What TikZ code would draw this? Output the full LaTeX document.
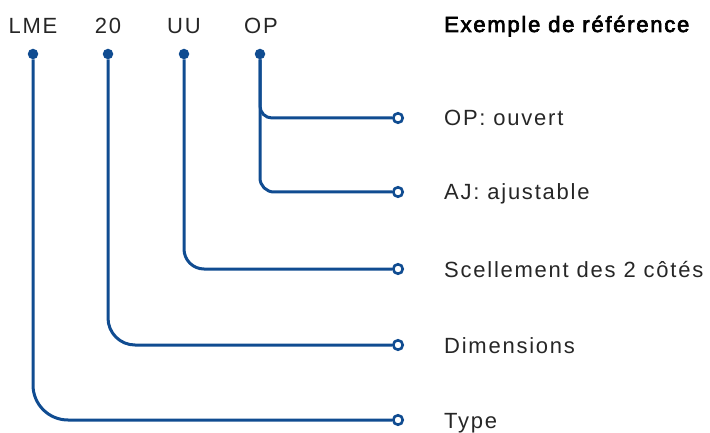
\documentclass[tikz,border=0pt]{standalone}
\usepackage{fontspec}
\setmainfont{Liberation Sans}[LetterSpace=8]
\usetikzlibrary{positioning}
\definecolor{refblue}{RGB}{16,76,145}

\begin{document}
\begin{tikzpicture}[x=1pt, y=-1pt,
    code/.style={font=\fontsize{22}{26}\selectfont, text=black!85, inner sep=0pt, anchor=base},
    desc/.style={font=\fontsize{22}{26}\selectfont, text=black!85, inner sep=0pt, anchor=base west},
    dot/.style={circle, fill=refblue, inner sep=0pt, minimum size=10.5pt},
    endpt/.style={circle, draw=refblue, line width=2.6pt, fill=white, inner sep=0pt, minimum size=9.5pt},
    wire/.style={draw=refblue, line width=3pt}]
    \useasboundingbox (0,0) rectangle (710,433);
    % the code
    \node[code] (lme) at (33,34) {LME};
    \node[code] (size) at (108,34) {20};
    \node[code] (seal) at (184,34) {UU};
    \node[code] (open) at (261,34) {OP};
    \node[desc, font=\fontsize{22}{26}\selectfont\addfontfeatures{FakeBold=3}, text=black] (title) at (444,32) {Exemple de référence};
    % dots under the code
    \node[dot] (dlme) at (33,54) {};
    \node[dot] (dsize) at (108,54) {};
    \node[dot] (dseal) at (184,54) {};
    \node[dot] (dopen) at (260,54) {};
    % end points
    \node[endpt] (eop) at (398,118) {};
    \node[endpt] (eaj) at (398,192) {};
    \node[endpt] (eseal) at (398,269) {};
    \node[endpt] (esize) at (398,345) {};
    \node[endpt] (etype) at (398,420) {};
    % meanings
    \node[desc] (top) at (444,126) {OP: ouvert};
    \node[desc] (taj) at (444,200) {AJ: ajustable};
    \node[desc] (tseal) at (444,277) {Scellement des 2 côtés};
    \node[desc] (tsize) at (444,353) {Dimensions};
    \node[desc] (ttype) at (444,428) {Type};
    % wires
    \draw[wire, rounded corners=12pt] (dopen) |- (eop);
    \draw[wire, rounded corners=14pt] (dopen) |- (eaj);
    \draw[wire, rounded corners=20pt] (dseal) |- (eseal);
    \draw[wire, rounded corners=27pt] (dsize) |- (esize);
    \draw[wire, rounded corners=35pt] (dlme) |- (etype);
\end{tikzpicture}
\end{document}
